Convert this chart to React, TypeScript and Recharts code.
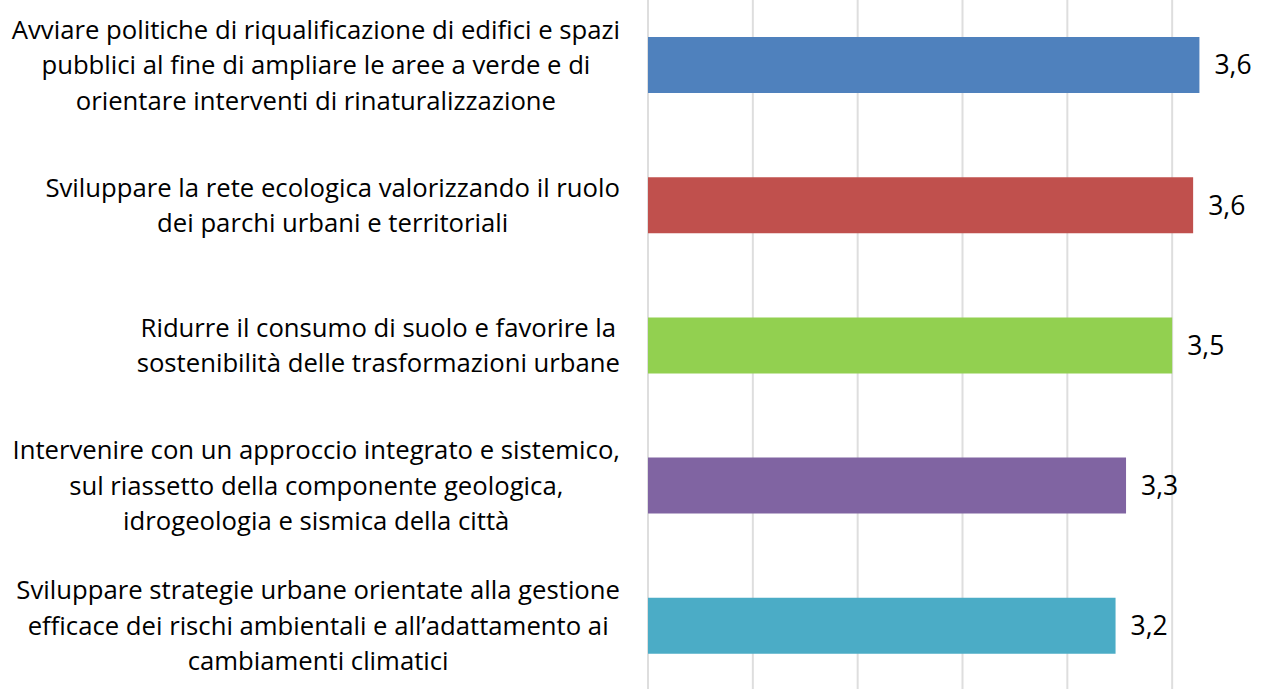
import React from 'react';
import { BarChart, Bar, XAxis, YAxis, CartesianGrid, Cell, LabelList } from 'recharts';

// category labels, already split into the lines shown in the picture
const categories = [
  [
    'Avviare politiche di riqualificazione di edifici e spazi',
    'pubblici al fine di ampliare le aree a verde e di',
    'orientare interventi di rinaturalizzazione',
  ],
  ['Sviluppare la rete ecologica valorizzando il ruolo', 'dei parchi urbani e territoriali'],
  ['Ridurre il consumo di suolo e favorire la ', 'sostenibilità delle trasformazioni urbane'],
  [
    'Intervenire con un approccio integrato e sistemico,',
    'sul riassetto della componente geologica,',
    'idrogeologia e sismica della città',
  ],
  [
    'Sviluppare strategie urbane orientate alla gestione',
    'efficace dei rischi ambientali e all\u2019adattamento ai',
    'cambiamenti climatici',
  ],
];

const values = [3.63, 3.6, 3.5, 3.28, 3.23];
const colors = ['#4F81BD', '#C0504D', '#92D050', '#8064A2', '#4BACC6'];
const xTicks = [1, 1.5, 2, 2.5, 3, 3.5, 4];

const FONT = '"Open Sans", sans-serif';
const FONT_SIZE = 25.7;
const LINE_H = 35.5;
const LABEL_RIGHT = 620;

const data = categories.map((lines, i) => ({
  name: lines.join(' '),
  value: values[i],
}));

let ctx: CanvasRenderingContext2D | null = null;
function textWidth(s: string) {
  if (!ctx) ctx = document.createElement('canvas').getContext('2d');
  if (!ctx) return s.length * FONT_SIZE * 0.5;
  ctx.font = `${FONT_SIZE}px "Open Sans"`;
  return ctx.measureText(s).width;
}

function CategoryTick(props: any) {
  const { y, index } = props;
  const lines = categories[index] || [];
  const maxW = Math.max(...lines.map((l) => textWidth(l.trimEnd())));
  const cx = LABEL_RIGHT - maxW / 2;
  return (
    <g>
      {lines.map((l, i) => (
        <text
          key={i}
          x={cx}
          y={y + (i - (lines.length - 1) / 2) * LINE_H}
          dy="0.35em"
          textAnchor="middle"
          fontFamily={FONT}
          fontSize={FONT_SIZE}
          fill="#000"
        >
          {l.trimEnd()}
        </text>
      ))}
    </g>
  );
}

export default function App() {
  return (
    <div
      style={{
        position: 'fixed',
        left: 0,
        top: 0,
        width: 1264,
        height: 689,
        overflow: 'hidden',
        background: '#fff',
      }}
    >
      <div style={{ position: 'absolute', left: 0, top: -5 }}>
        <BarChart
          width={1300}
          height={701}
          data={data}
          layout="vertical"
          margin={{ top: 0, right: 23, bottom: 0, left: 0 }}
        >
          <CartesianGrid horizontal={false} stroke="#DEDEDE" strokeWidth={2} />
          <XAxis type="number" domain={[1, 4]} ticks={xTicks} hide allowDataOverflow />
          <YAxis
            type="category"
            dataKey="name"
            width={648}
            axisLine={false}
            tickLine={false}
            interval={0}
            tick={<CategoryTick />}
          />
          <Bar dataKey="value" barSize={56} isAnimationActive={false}>
            {data.map((d, i) => (
              <Cell key={d.name} fill={colors[i]} />
            ))}
            <LabelList
              dataKey="value"
              position="right"
              offset={15}
              formatter={(v: any) => Number(v).toFixed(1).replace('.', ',')}
              style={{ fontFamily: FONT, fontSize: 26.5, fill: '#000' }}
            />
          </Bar>
        </BarChart>
      </div>
    </div>
  );
}
